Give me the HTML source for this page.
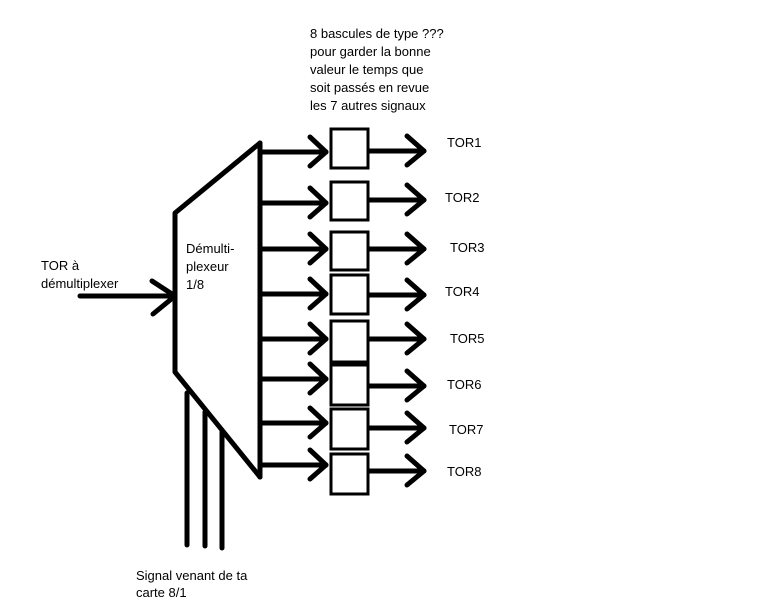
<!DOCTYPE html>
<html><head><meta charset="utf-8"><style>
html,body{margin:0;padding:0;background:#fff;width:768px;height:614px;overflow:hidden}
svg{display:block}
text{font-family:"Liberation Sans",sans-serif;font-size:13px;fill:#000}
</style></head><body>
<svg width="768" height="614" viewBox="0 0 768 614">
<g stroke="#000" stroke-width="5" fill="none" stroke-linecap="round" stroke-linejoin="round">
<!-- demux outline -->
<polyline points="260,143 175,213 175,372 260,477"/>
<line x1="260" y1="143" x2="260" y2="477"/>
<!-- input -->
<line x1="80" y1="296" x2="175" y2="296"/>
<polyline points="152,281 175,296 153,314"/>
<!-- select lines -->
<line x1="187" y1="393" x2="187" y2="545"/>
<line x1="205" y1="412" x2="205" y2="546"/>
<line x1="222" y1="432" x2="222" y2="548"/>
<!-- input arrows to boxes -->
<g>
<line x1="260" y1="152" x2="326" y2="152"/><polyline points="310,137 326,152 310,166"/>
<line x1="260" y1="203" x2="326" y2="203"/><polyline points="310,188 326,203 310,217"/>
<line x1="260" y1="249" x2="326" y2="249"/><polyline points="310,234 326,249 310,263"/>
<line x1="260" y1="294" x2="326" y2="294"/><polyline points="310,279 326,294 310,308"/>
<line x1="260" y1="339" x2="326" y2="339"/><polyline points="310,324 326,339 310,353"/>
<line x1="260" y1="379" x2="326" y2="379"/><polyline points="310,364 326,379 310,393"/>
<line x1="260" y1="423" x2="326" y2="423"/><polyline points="310,408 326,423 310,437"/>
<line x1="260" y1="465" x2="326" y2="465"/><polyline points="310,450 326,465 310,479"/>
</g>
<!-- output arrows -->
<g>
<line x1="368" y1="151" x2="424" y2="151"/><polyline points="407,136 424,151 407,165"/>
<line x1="368" y1="200" x2="424" y2="200"/><polyline points="407,185 424,200 407,214"/>
<line x1="368" y1="249" x2="424" y2="249"/><polyline points="407,234 424,249 407,263"/>
<line x1="368" y1="295" x2="424" y2="295"/><polyline points="407,280 424,295 407,309"/>
<line x1="368" y1="339" x2="424" y2="339"/><polyline points="407,324 424,339 407,353"/>
<line x1="368" y1="386" x2="424" y2="386"/><polyline points="407,371 424,386 407,400"/>
<line x1="368" y1="428" x2="424" y2="428"/><polyline points="407,413 424,428 407,442"/>
<line x1="368" y1="471" x2="424" y2="471"/><polyline points="407,456 424,471 407,485"/>
</g>
</g>
<!-- boxes -->
<g stroke="#000" stroke-width="3" fill="#fff">
<rect x="331" y="129" width="37" height="39"/>
<rect x="331" y="182" width="37" height="38"/>
<rect x="331" y="232" width="37" height="38"/>
<rect x="331" y="275" width="37" height="39"/>
<rect x="331" y="321" width="37" height="41"/>
<rect x="331" y="365" width="37" height="40"/>
<rect x="331" y="409" width="37" height="40"/>
<rect x="331" y="454" width="37" height="40"/>
</g>
<text x="310" y="38">8 bascules de type ???</text>
<text x="310" y="56">pour garder la bonne</text>
<text x="310" y="74">valeur le temps que</text>
<text x="310" y="92">soit passés en revue</text>
<text x="310" y="110">les 7 autres signaux</text>
<text x="41" y="270">TOR à</text>
<text x="41" y="288">démultiplexer</text>
<text x="186" y="253">Démulti-</text>
<text x="186" y="271">plexeur</text>
<text x="186" y="289">1/8</text>
<text x="447" y="147">TOR1</text>
<text x="445" y="202">TOR2</text>
<text x="450" y="252">TOR3</text>
<text x="445" y="296">TOR4</text>
<text x="450" y="343">TOR5</text>
<text x="447" y="389">TOR6</text>
<text x="449" y="434">TOR7</text>
<text x="447" y="476">TOR8</text>
<text x="136" y="580">Signal venant de ta</text>
<text x="136" y="597">carte 8/1</text>
</svg>
</body></html>
